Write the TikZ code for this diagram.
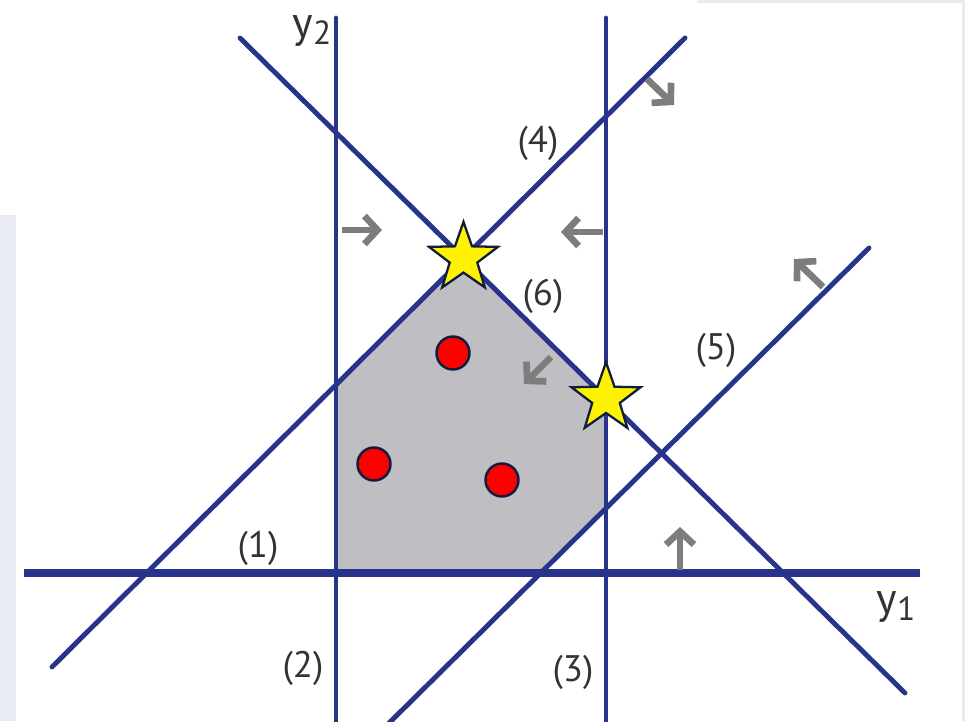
\documentclass[tikz,border=0pt]{standalone}
\usepackage{fontspec}
\setmainfont{PT Sans}
\usepackage{tikz}
\usetikzlibrary{arrows.meta,shapes.geometric}
\definecolor{lineblue}{RGB}{40,52,140}
\definecolor{regiongray}{RGB}{190,190,195}
\definecolor{arrowgray}{RGB}{125,125,125}
\definecolor{edgegray}{RGB}{232,235,241}
\definecolor{markline}{RGB}{15,30,60}

\newcommand{\axlabel}[2]{{\fontsize{25}{25}\selectfont #1}{\fontsize{19}{19}\selectfont\raisebox{-0.45ex}{#2}}}

\tikzset{
  constraint/.style={draw=lineblue, line width=2.8pt, line cap=round},
  feasdir/.style={draw=arrowgray, line width=3.8pt, -{Straight Barb[length=2.6mm,width=5.6mm]}},
  optstar/.style={star, star points=5, star point ratio=2.5, minimum size=1.45cm, inner sep=0pt, fill=yellow, draw=markline, line width=1.3pt},
  intpoint/.style={circle, minimum size=0.66cm, inner sep=0pt, fill=red, draw=markline, line width=1.4pt},
  linelabel/.style={font=\fontsize{21}{24}\selectfont, text=black!80}
}

\begin{document}
\begin{tikzpicture}
        \useasboundingbox (-6.72,-2.96) rectangle (12.58,11.46);

        % screenshot edges
        \fill[edgegray] (-6.72,-2.96) rectangle (-6.40,7.16);
        \fill[edgegray] (7.22,11.40) rectangle (12.58,11.46);
        \fill[edgegray] (12.52,-2.96) rectangle (12.58,11.46);

        % end points of the constraint lines
        \coordinate (O) at (0,0);
        \coordinate (c1a) at (-6.24,0);    \coordinate (c1b) at (11.68,0);
        \coordinate (c2a) at (0,-3.2);     \coordinate (c2b) at (0,11.10);
        \coordinate (c3a) at (5.40,-3.2);  \coordinate (c3b) at (5.40,11.10);
        \coordinate (c4a) at (-5.68,-1.88); \coordinate (c4b) at (6.98,10.70);
        \coordinate (c5a) at (0.86,-3.2);  \coordinate (c5b) at (10.66,6.50);
        \coordinate (c6a) at (-1.92,10.70); \coordinate (c6b) at (11.38,-2.40);

        % corners of the feasible region
        \coordinate (pA) at (intersection of c1a--c1b and c5a--c5b);
        \coordinate (pB) at (intersection of c5a--c5b and c3a--c3b);
        \coordinate (pC) at (intersection of c6a--c6b and c3a--c3b);
        \coordinate (pD) at (intersection of c4a--c4b and c6a--c6b);
        \coordinate (pE) at (intersection of c4a--c4b and c2a--c2b);
        \fill[regiongray] (O) -- (pA) -- (pB) -- (pC) -- (pD) -- (pE) -- cycle;

        % constraints
        \draw[constraint, line width=4.4pt, line cap=butt] (c1a) -- (c1b);
        \draw[constraint] (c2a) -- (c2b);
        \draw[constraint] (c3a) -- (c3b);
        \draw[constraint] (c4a) -- (c4b);
        \draw[constraint] (c5a) -- (c5b);
        \draw[constraint] (c6a) -- (c6b);

        % feasible directions
        \draw[feasdir] (0.12,6.86) -- (0.92,6.86);
        \draw[feasdir] (5.34,6.82) -- (4.50,6.82);
        \draw[feasdir] (6.22,9.88) -- (6.76,9.36);
        \draw[feasdir] (9.74,5.72) -- (9.16,6.28);
        \draw[feasdir] (4.30,4.32) -- (3.76,3.78);
        \draw[feasdir] (6.88,0.06) -- (6.88,0.92);

        % integer points
        \node[intpoint] (d1) at (2.34,4.40) {};
        \node[intpoint] (d2) at (0.76,2.18) {};
        \node[intpoint] (d3) at (3.32,1.86) {};

        % optimal vertices
        \node[optstar] (s1) at (pD) {};
        \node[optstar] (s2) at (pC) {};

        % labels
        \node[linelabel] (ax2) at (-0.48,10.84) {\axlabel{y}{2}};
        \node[linelabel] (ax1) at (11.20,-0.68) {\axlabel{y}{1}};
        \node[linelabel] (lab1) at (-1.56,0.50) {(1)};
        \node[linelabel] (lab2) at (-0.66,-1.90) {(2)};
        \node[linelabel] (lab3) at (4.74,-1.98) {(3)};
        \node[linelabel] (lab4) at (4.04,8.60) {(4)};
        \node[linelabel] (lab5) at (7.60,4.46) {(5)};
        \node[linelabel] (lab6) at (4.14,5.54) {(6)};
\end{tikzpicture}
\end{document}
